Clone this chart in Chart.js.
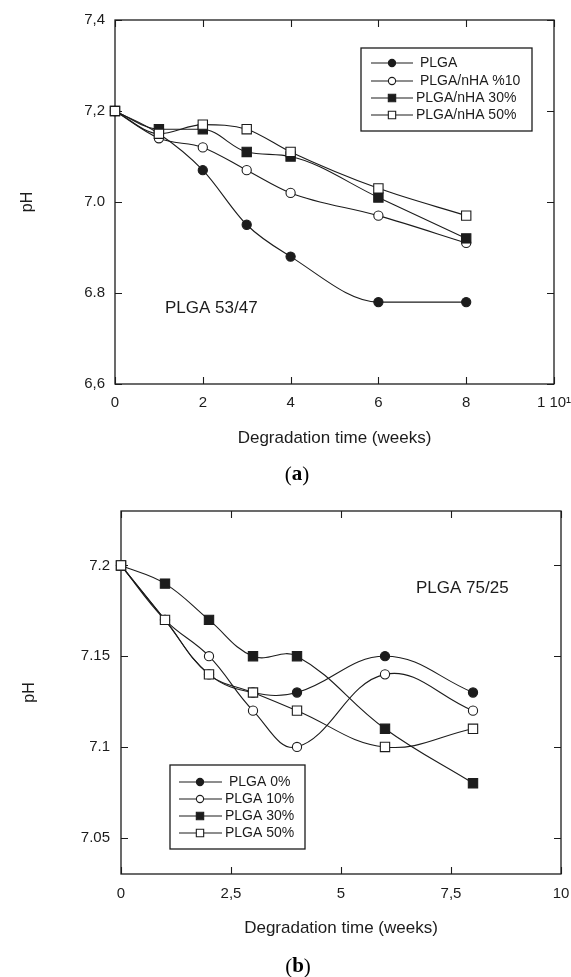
<!DOCTYPE html>
<html>
<head>
<meta charset="utf-8">
<script src="https://cdn.jsdelivr.net/npm/chart.js@4.4.1/dist/chart.umd.min.js"></script>
<style>
  html, body { margin: 0; padding: 0; background: #fff; }
  .panel { position: absolute; left: 0; width: 571px; }
  #panelA { top: 0; height: 490px; }
  #panelB { top: 490px; height: 487px; }
</style>
</head>
<body>
<div class="panel" id="panelA"><canvas id="chartA" width="571" height="490"></canvas></div>
<div class="panel" id="panelB"><canvas id="chartB" width="571" height="487"></canvas></div>
<script>
// ---- Panel (a): PLGA 53/47 ----
const weeksA = [0, 1, 2, 3, 4, 6, 8];
const plgaA  = [7.20, 7.15, 7.07, 6.95, 6.88, 6.78, 6.78];
const nha10A = [7.20, 7.14, 7.12, 7.07, 7.02, 6.97, 6.91];
const nha30A = [7.20, 7.16, 7.16, 7.11, 7.10, 7.01, 6.92];
const nha50A = [7.20, 7.15, 7.17, 7.16, 7.11, 7.03, 6.97];
const seriesNamesA = ['PLGA', 'PLGA/nHA %10', 'PLGA/nHA 30%', 'PLGA/nHA 50%'];
const xTicksA = [0, 2, 4, 6, 8, 10];
const xTickLabelsA = ['0', '2', '4', '6', '8', '1 10\u00b9'];
const yTicksA = [6.6, 6.8, 7.0, 7.2, 7.4];
const yTickLabelsA = ['6,6', '6.8', '7.0', '7,2', '7,4'];

// ---- Panel (b): PLGA 75/25 ----
const weeksB  = [0, 1, 2, 3, 4, 6, 8];
const plga0B  = [7.20, 7.17, 7.14, 7.13, 7.13, 7.15, 7.13];
const plga10B = [7.20, 7.17, 7.15, 7.12, 7.10, 7.14, 7.12];
const plga30B = [7.20, 7.19, 7.17, 7.15, 7.15, 7.11, 7.08];
const plga50B = [7.20, 7.17, 7.14, 7.13, 7.12, 7.10, 7.11];
const seriesNamesB = ['PLGA 0%', 'PLGA 10%', 'PLGA 30%', 'PLGA 50%'];
const xTicksB = [0, 2.5, 5, 7.5, 10];
const xTickLabelsB = ['0', '2,5', '5', '7,5', '10'];
const yTicksB = [7.05, 7.1, 7.15, 7.2];
const yTickLabelsB = ['7.05', '7.1', '7.15', '7.2'];

const INK = '#1c1c1c';
const SANS = '"Liberation Sans", Arial, Helvetica, sans-serif';
const SERIF = '"Liberation Serif", "Times New Roman", serif';

// filled circle, open circle, filled square, open square
const markers = [
  { style: 'circle', fill: INK,    r: 4.6, legendR: 3.6 },
  { style: 'circle', fill: '#fff', r: 4.6, legendR: 3.6 },
  { style: 'rect',   fill: INK,    r: 6.6, legendR: 5.2 },
  { style: 'rect',   fill: '#fff', r: 6.6, legendR: 5.2 }
];

function makeDatasets(xs, seriesList, names, interpolation) {
  return seriesList.map((ys, i) => ({
    label: names[i],
    data: xs.map((x, j) => ({ x: x, y: ys[j] })),
    borderColor: INK,
    borderWidth: 1.1,
    pointStyle: markers[i].style,
    pointRadius: markers[i].r,
    pointHoverRadius: markers[i].r,
    pointBackgroundColor: markers[i].fill,
    pointBorderColor: INK,
    pointBorderWidth: 1.1,
    legendRadius: markers[i].legendR,
    cubicInterpolationMode: interpolation,
    tension: 0.4,
    fill: false,
    clip: false,
    order: seriesList.length - i
  }));
}

// plot frame with inward tick marks on all four sides
const framePlugin = {
  id: 'frame',
  beforeDatasetsDraw(chart) {
    const { ctx, chartArea: { left, right, top, bottom }, scales: { x, y } } = chart;
    const L = 7;
    ctx.save();
    ctx.strokeStyle = INK;
    ctx.lineWidth = 1.3;
    ctx.strokeRect(left, top, right - left, bottom - top);
    ctx.beginPath();
    x.ticks.forEach(t => {
      const px = Math.round(x.getPixelForValue(t.value)) + 0.5;
      ctx.moveTo(px, bottom); ctx.lineTo(px, bottom - L);
      ctx.moveTo(px, top);    ctx.lineTo(px, top + L);
    });
    y.ticks.forEach(t => {
      const py = Math.round(y.getPixelForValue(t.value)) + 0.5;
      ctx.moveTo(left, py);  ctx.lineTo(left + L, py);
      ctx.moveTo(right, py); ctx.lineTo(right - L, py);
    });
    ctx.lineWidth = 1.1;
    ctx.stroke();
    ctx.restore();
  }
};

// boxed legend inside the plot
const boxLegendPlugin = {
  id: 'boxLegend',
  afterDraw(chart, args, o) {
    if (!o || !o.box) return;
    const ctx = chart.ctx;
    const [x0, y0, x1, y1] = o.box;
    ctx.save();
    ctx.fillStyle = '#fff';
    ctx.fillRect(x0, y0, x1 - x0, y1 - y0);
    ctx.strokeStyle = INK;
    ctx.lineWidth = 1.3;
    ctx.strokeRect(x0, y0, x1 - x0, y1 - y0);
    chart.data.datasets.forEach((ds, i) => {
      const yy = o.rowY[i];
      ctx.beginPath();
      ctx.moveTo(o.lineX[0], yy);
      ctx.lineTo(o.lineX[1], yy);
      ctx.strokeStyle = INK;
      ctx.lineWidth = ds.borderWidth;
      ctx.stroke();
      ctx.fillStyle = ds.pointBackgroundColor;
      ctx.strokeStyle = INK;
      ctx.lineWidth = ds.pointBorderWidth;
      Chart.helpers.drawPoint(ctx, {
        pointStyle: ds.pointStyle, rotation: 0,
        radius: ds.legendRadius, borderWidth: ds.pointBorderWidth
      }, o.markX, yy);
      ctx.fillStyle = INK;
      ctx.font = o.fontSize + 'px ' + SANS;
      ctx.textAlign = 'left';
      ctx.textBaseline = 'middle';
      ctx.fillText(ds.label, o.textX[i], yy);
    });
    ctx.restore();
  }
};

// in-plot annotation and panel letter
const notesPlugin = {
  id: 'notes',
  afterDraw(chart, args, o) {
    if (!o) return;
    const ctx = chart.ctx;
    ctx.save();
    ctx.fillStyle = INK;
    ctx.textBaseline = 'middle';
    (o.texts || []).forEach(t => {
      ctx.font = t.size + 'px ' + SANS;
      ctx.textAlign = 'left';
      ctx.fillText(t.text, t.x, t.y);
    });
    if (o.panel) {
      const p = o.panel;
      const regular = p.size + 'px ' + SERIF;
      const bold = 'bold ' + p.size + 'px ' + SERIF;
      ctx.font = regular;
      const wParen = ctx.measureText('(').width;
      const wClose = ctx.measureText(')').width;
      ctx.font = bold;
      const wLetter = ctx.measureText(p.letter).width;
      let cx = p.x - (wParen + wLetter + wClose) / 2;
      ctx.textAlign = 'left';
      ctx.fillStyle = '#000';
      ctx.font = regular; ctx.fillText('(', cx, p.y); cx += wParen;
      ctx.font = bold;    ctx.fillText(p.letter, cx, p.y); cx += wLetter;
      ctx.font = regular; ctx.fillText(')', cx, p.y);
    }
    ctx.restore();
  }
};

function makeScales(cfg) {
  return {
    x: {
      type: 'linear',
      min: cfg.xMin, max: cfg.xMax,
      afterBuildTicks: s => { s.ticks = cfg.xTicks.map(v => ({ value: v })); },
      afterFit: s => { s.height = cfg.xHeight; s.paddingLeft = 0; s.paddingRight = 0; },
      grid: { display: false, drawTicks: false },
      border: { display: false },
      ticks: {
        autoSkip: false, maxRotation: 0, padding: cfg.xTickPad, color: INK,
        font: { family: SANS, size: 15 },
        callback: (v, i) => cfg.xLabels[i]
      },
      title: {
        display: true, text: 'Degradation time (weeks)', color: INK,
        font: { family: SANS, size: 17 },
        padding: { top: 0, bottom: cfg.xTitlePad }
      }
    },
    y: {
      type: 'linear',
      min: cfg.yMin, max: cfg.yMax,
      afterBuildTicks: s => { s.ticks = cfg.yTicks.map(v => ({ value: v })); },
      afterFit: s => { s.width = cfg.yWidth; s.paddingTop = 0; s.paddingBottom = 0; },
      grid: { display: false, drawTicks: false },
      border: { display: false },
      ticks: {
        autoSkip: false, padding: cfg.yTickPad, color: INK,
        font: { family: SANS, size: 15 },
        callback: (v, i) => cfg.yLabels[i]
      },
      title: {
        display: true, text: 'pH', color: INK,
        font: { family: SANS, size: 16 },
        padding: { top: cfg.yTitlePad, bottom: 0 }
      }
    }
  };
}

const commonOptions = {
  responsive: false,
  animation: false,
  devicePixelRatio: 1,
  events: []
};

new Chart(document.getElementById('chartA'), {
  type: 'line',
  data: { datasets: makeDatasets(weeksA, [plgaA, nha10A, nha30A, nha50A], seriesNamesA, 'monotone') },
  options: Object.assign({}, commonOptions, {
    layout: { padding: { left: 0, right: 17, top: 20, bottom: 0 } },
    scales: makeScales({
      xMin: 0, xMax: 10, xTicks: xTicksA, xLabels: xTickLabelsA,
      yMin: 6.6, yMax: 7.4, yTicks: yTicksA, yLabels: yTickLabelsA,
      xHeight: 106, yWidth: 115, xTickPad: 10, yTickPad: 10,
      xTitlePad: 41.8, yTitlePad: 18.4
    }),
    plugins: {
      legend: { display: false },
      tooltip: { enabled: false },
      boxLegend: {
        box: [361, 48, 532, 131],
        rowY: [63, 81, 98, 115],
        lineX: [371, 413], markX: 392,
        textX: [420, 420, 416, 416],
        fontSize: 14
      },
      notes: {
        texts: [{ text: 'PLGA 53/47', x: 165, y: 308, size: 17 }],
        panel: { letter: 'a', x: 297, y: 475, size: 21 }
      }
    }
  }),
  plugins: [framePlugin, boxLegendPlugin, notesPlugin]
});

new Chart(document.getElementById('chartB'), {
  type: 'line',
  data: { datasets: makeDatasets(weeksB, [plga0B, plga10B, plga30B, plga50B], seriesNamesB, 'default') },
  options: Object.assign({}, commonOptions, {
    layout: { padding: { left: 0, right: 10, top: 21, bottom: 0 } },
    scales: makeScales({
      xMin: 0, xMax: 10, xTicks: xTicksB, xLabels: xTickLabelsB,
      yMin: 7.03, yMax: 7.23, yTicks: yTicksB, yLabels: yTickLabelsB,
      xHeight: 103, yWidth: 121, xTickPad: 11, yTickPad: 11,
      xTitlePad: 38.8, yTitlePad: 19.5
    }),
    plugins: {
      legend: { display: false },
      tooltip: { enabled: false },
      boxLegend: {
        box: [170, 275, 305, 359],
        rowY: [292, 309, 326, 343],
        lineX: [179, 222], markX: 200,
        textX: [229, 225, 225, 225],
        fontSize: 14
      },
      notes: {
        texts: [{ text: 'PLGA 75/25', x: 416, y: 98, size: 17 }],
        panel: { letter: 'b', x: 298, y: 477, size: 21 }
      }
    }
  }),
  plugins: [framePlugin, boxLegendPlugin, notesPlugin]
});
</script>
</body>
</html>
